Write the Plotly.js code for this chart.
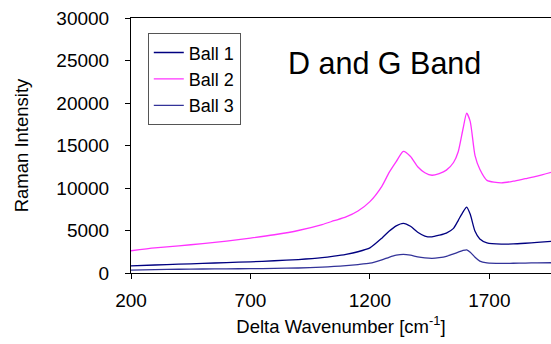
<!DOCTYPE html>
<html>
<head>
<meta charset="utf-8">
<script src="https://cdn.plot.ly/plotly-3.0.1.min.js"></script>
<style>html,body{margin:0;padding:0;background:#fff;}</style>
</head>
<body>
<div id="chart" style="width:551px;height:344px;"></div>
<script>
const wavenumber = [200, 300, 400, 500, 600, 700, 800, 900, 1000, 1050, 1100, 1150, 1200, 1250, 1280, 1310, 1340, 1370, 1400, 1430, 1460, 1490, 1520, 1550, 1570, 1590, 1605, 1620, 1640, 1660, 1690, 1750, 1800, 1850, 1900, 1960];
const ball1 = [840, 940, 1040, 1130, 1220, 1320, 1440, 1580, 1800, 1980, 2200, 2500, 2950, 4100, 4900, 5550, 5850, 5500, 4800, 4350, 4250, 4450, 4700, 5250, 6200, 7200, 7750, 6900, 4900, 4000, 3550, 3400, 3420, 3500, 3600, 3730];
const ball2 = [2620, 2950, 3200, 3450, 3750, 4100, 4500, 5000, 5700, 6150, 6600, 7300, 8400, 10200, 11800, 13100, 14300, 13700, 12500, 11800, 11500, 11700, 12100, 13000, 14300, 17000, 18800, 17800, 13800, 12200, 10900, 10600, 10800, 11100, 11400, 11850];
const ball3 = [350, 400, 440, 470, 490, 510, 540, 590, 690, 770, 870, 990, 1150, 1550, 1850, 2100, 2200, 2100, 1900, 1780, 1730, 1800, 1950, 2250, 2450, 2650, 2720, 2450, 1850, 1400, 1200, 1130, 1150, 1170, 1190, 1210];
const seriesNames = ["Ball 1", "Ball 2", "Ball 3"];
const xTicks = [200, 700, 1200, 1700];
const yTicks = [0, 5000, 10000, 15000, 20000, 25000, 30000];

const colors = ["#000080", "#ff33ff", "#333399"];
const data = [ball1, ball2, ball3].map((ys, i) => ({
  x: wavenumber, y: ys, name: seriesNames[i], type: "scatter", mode: "lines",
  line: {color: colors[i], width: 1.3, shape: "spline", smoothing: 0.6}
}));

const font = "Arial, 'Liberation Sans', sans-serif";
const layout = {
  width: 551, height: 344,
  margin: {l: 131, r: 0, t: 18, b: 71},
  paper_bgcolor: "#fff", plot_bgcolor: "#fff",
  showlegend: true,
  legend: {
    x: 0.04, y: 0.94, xanchor: "left", yanchor: "top",
    bgcolor: "#fff", bordercolor: "#555", borderwidth: 1,
    font: {family: font, size: 18, color: "#000"},
    itemwidth: 30
  },
  xaxis: {
    range: [200, 1958], tickvals: xTicks, ticktext: xTicks.map(String),
    showline: true, linecolor: "#000", linewidth: 1, mirror: true,
    ticks: "outside", ticklen: 5, tickcolor: "#000", showgrid: false, zeroline: false,
    ticklabelstandoff: 5,
    tickfont: {family: font, size: 19, color: "#000"},
    title: {text: "Delta Wavenumber [cm<sup>-1</sup>]", font: {family: font, size: 18.5, color: "#000"}, standoff: 10}
  },
  yaxis: {
    range: [0, 30000], tickvals: yTicks, ticktext: yTicks.map(String),
    showline: true, linecolor: "#000", linewidth: 1,
    ticks: "outside", ticklen: 5, tickcolor: "#000", showgrid: false, zeroline: false,
    ticklabelstandoff: 12,
    tickfont: {family: font, size: 19, color: "#000"},
    title: {text: "Raman Intensity", font: {family: font, size: 18.5, color: "#000"}, standoff: 22}
  },
  annotations: [{
    text: "D and G Band", xref: "paper", yref: "paper",
    x: (384.5 - 131) / 420, y: (273 - 63) / 255, xanchor: "center", yanchor: "middle",
    showarrow: false, font: {family: font, size: 30.5, color: "#000"}
  }]
};
Plotly.newPlot("chart", data, layout, {displayModeBar: false, staticPlot: true});
</script>
</body>
</html>
